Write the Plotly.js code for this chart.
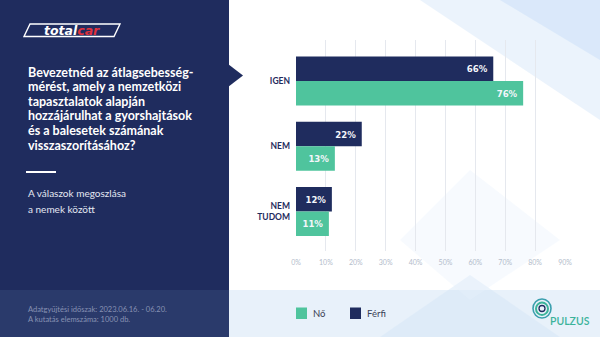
<!DOCTYPE html>
<html>
<head>
<meta charset="utf-8">
<script src="https://cdn.plot.ly/plotly-3.0.1.min.js"></script>
<style>html,body{margin:0;padding:0;background:#fff;}#chart{width:600px;height:337px;}</style>
</head>
<body>
<div id="chart"></div>
<script>
// ---- data ----
const categories = ["IGEN", "NEM", "NEM<br>TUDOM"];
const ferfiValues = [66, 22, 12];
const noValues = [76, 13, 11];
const seriesNames = ["Nő", "Férfi"];
const xTickVals = [0, 10, 20, 30, 40, 50, 60, 70, 80, 90];
const xTickText = ["0%", "10%", "20%", "30%", "40%", "50%", "60%", "70%", "80%", "90%"];
const titleLines = ["Bevezetnéd az átlagsebesség-", "mérést, amely a nemzetközi", "tapasztalatok alapján", "hozzájárulhat a gyorshajtások", "és a balesetek számának", "visszaszorításához?"];
const subtitleLines = ["A válaszok megoszlása", "a nemek között"];
const footerLines = ["Adatgyűjtési időszak: 2023.06.16. - 06.20.", "A kutatás elemszáma: 1000 db."];

// ---- styling ----
const NAVY = "#1f2c5e";
const GREEN = "#4fc49d";
const W = 600, H = 337;
const px = x => x / W;
const py = y => 1 - y / H;

const pct = v => v + "%\u00a0";
const labelFont = {family: "DejaVu Sans Condensed, Liberation Sans Narrow, sans-serif", size: 9.5, color: "#f4f6fb", weight: "bold"};

const traces = [
  {
    type: "bar", orientation: "h", name: seriesNames[1],
    y: categories, x: ferfiValues, text: ferfiValues.map(pct),
    marker: {color: NAVY}, textposition: "inside", insidetextanchor: "end",
    textfont: labelFont, hoverinfo: "skip", cliponaxis: false, showlegend: false
  },
  {
    type: "bar", orientation: "h", name: seriesNames[0],
    y: categories, x: noValues, text: noValues.map(pct),
    marker: {color: GREEN}, textposition: "inside", insidetextanchor: "end",
    textfont: labelFont, hoverinfo: "skip", cliponaxis: false, showlegend: false
  }
];

const shapes = [];
const annotations = [];

// right side background tints
shapes.push({type: "path", xref: "paper", yref: "paper", layer: "below",
  path: `M ${px(420)} ${py(0)} L ${px(600)} ${py(0)} L ${px(600)} ${py(120)} Z`,
  fillcolor: "rgba(190,215,245,0.3)", line: {width: 0}});
shapes.push({type: "path", xref: "paper", yref: "paper", layer: "below",
  path: `M ${px(500)} ${py(0)} L ${px(600)} ${py(0)} L ${px(600)} ${py(60)} Z`,
  fillcolor: "rgba(180,210,245,0.3)", line: {width: 0}});
shapes.push({type: "rect", xref: "paper", yref: "paper", layer: "below",
  x0: px(229), x1: px(600), y0: py(290), y1: py(337),
  fillcolor: "#e8f1fa", line: {width: 0}});
shapes.push({type: "path", xref: "paper", yref: "paper", layer: "below",
  path: `M ${px(380)} ${py(337)} L ${px(470)} ${py(275)} L ${px(560)} ${py(337)} Z`,
  fillcolor: "rgba(210,228,246,0.45)", line: {width: 0}});
shapes.push({type: "path", xref: "paper", yref: "paper", layer: "below",
  path: `M ${px(470)} ${py(170)} L ${px(560)} ${py(240)} L ${px(470)} ${py(300)} L ${px(400)} ${py(240)} Z`,
  fillcolor: "rgba(232,241,251,0.35)", line: {width: 0}});

// left panel
shapes.push({type: "rect", xref: "paper", yref: "paper", layer: "above",
  x0: 0, x1: px(229), y0: py(290), y1: 1, fillcolor: NAVY, line: {width: 0}});
shapes.push({type: "rect", xref: "paper", yref: "paper", layer: "above",
  x0: 0, x1: px(229), y0: 0, y1: py(290), fillcolor: "#2a3a6b", line: {width: 0}});
shapes.push({type: "path", xref: "paper", yref: "paper", layer: "above",
  path: `M ${px(228)} ${py(64)} L ${px(243)} ${py(75.5)} L ${px(228)} ${py(87)} Z`,
  fillcolor: NAVY, line: {width: 0}});
// separator line
shapes.push({type: "line", xref: "paper", yref: "paper", layer: "above",
  x0: px(26), x1: px(56), y0: py(172), y1: py(172), line: {color: "#ffffff", width: 2}});
// logo parallelogram
shapes.push({type: "path", xref: "paper", yref: "paper", layer: "above",
  path: `M ${px(30)} ${py(24)} L ${px(120)} ${py(24)} L ${px(114)} ${py(36.5)} L ${px(24)} ${py(36.5)} Z`,
  fillcolor: "rgba(0,0,0,0)", line: {color: "#ffffff", width: 1.4}});
annotations.push({xref: "paper", yref: "paper", x: px(72), y: py(30.3), xanchor: "center", yanchor: "middle",
  text: "<b><i>total<span style='color:#e0323c'>car</span></i></b>", showarrow: false,
  font: {family: "DejaVu Sans", size: 12.5, color: "#ffffff"}});

// title
titleLines.forEach((t, i) => {
  annotations.push({xref: "paper", yref: "paper", x: px(26), y: py(72 + i * 14.6), xanchor: "left", yanchor: "middle",
    text: "<b>" + t + "</b>", showarrow: false, font: {family: "Lato", size: 12.5, color: "#ffffff"}});
});
subtitleLines.forEach((t, i) => {
  annotations.push({xref: "paper", yref: "paper", x: px(26), y: py(193 + i * 15.5), xanchor: "left", yanchor: "middle",
    text: t, showarrow: false, font: {family: "Lato", size: 10, color: "#e4e8f2"}});
});
footerLines.forEach((t, i) => {
  annotations.push({xref: "paper", yref: "paper", x: px(26), y: py(309 + i * 10), xanchor: "left", yanchor: "middle",
    text: t, showarrow: false, font: {family: "Lato", size: 7.5, color: "#8892b3"}});
});

// legend (manual, to match spacing)
const legendItems = [
  {name: seriesNames[0], color: GREEN, x: 296},
  {name: seriesNames[1], color: NAVY, x: 350}
];
legendItems.forEach(it => {
  shapes.push({type: "rect", xref: "paper", yref: "paper", layer: "above",
    x0: px(it.x), x1: px(it.x + 11), y0: py(319), y1: py(307.5), fillcolor: it.color, line: {width: 0}});
  annotations.push({xref: "paper", yref: "paper", x: px(it.x + 15), y: py(313.5), xanchor: "left", yanchor: "middle",
    text: it.name, showarrow: false, font: {family: "Lato", size: 9.5, color: "#3a3f55"}});
});

// PULZUS logo
shapes.push({type: "circle", xref: "paper", yref: "paper", layer: "above",
  x0: px(533), x1: px(551), y0: py(318), y1: py(299), line: {color: "#3a9fae", width: 1.6}, fillcolor: "rgba(0,0,0,0)"});
shapes.push({type: "circle", xref: "paper", yref: "paper", layer: "above",
  x0: px(536), x1: px(548), y0: py(315), y1: py(302.5), line: {color: "#3bb39a", width: 2}, fillcolor: "rgba(0,0,0,0)"});
shapes.push({type: "circle", xref: "paper", yref: "paper", layer: "above",
  x0: px(539), x1: px(545), y0: py(311.5), y1: py(305.5), line: {color: NAVY, width: 1.3}, fillcolor: "rgba(0,0,0,0)"});
annotations.push({xref: "paper", yref: "paper", x: px(548), y: py(321), xanchor: "left", yanchor: "middle",
  text: "PULZUS", showarrow: false, font: {family: "Lato", size: 10.5, color: "#3bb39a", weight: 600}});

const layout = {
  width: W, height: H,
  margin: {l: 0, r: 0, t: 0, b: 0},
  paper_bgcolor: "#ffffff",
  plot_bgcolor: "rgba(0,0,0,0)",
  barmode: "group",
  bargap: 0.25,
  bargroupgap: 0,
  showlegend: false,
  xaxis: {
    domain: [px(296), px(565)], range: [0, 90], tickvals: xTickVals, ticktext: xTickText,
    showgrid: true, gridcolor: "#e5e8ee", gridwidth: 1, zeroline: false, showline: false,
    ticks: "", tickfont: {family: "Lato", size: 7, color: "#b3bccb"}, automargin: false, fixedrange: true,
    ticklabelstandoff: 6
  },
  yaxis: {
    domain: [py(251), py(40)], type: "category", range: [2.605, -0.628],
    showgrid: false, zeroline: false, showline: false, ticks: "",
    tickfont: {family: "Lato", size: 8.5, color: NAVY, weight: "bold"}, automargin: false, fixedrange: true,
    ticklabelstandoff: 5
  },
  shapes: shapes,
  annotations: annotations,
  font: {family: "Lato"}
};

Plotly.newPlot("chart", traces, layout, {displayModeBar: false, staticPlot: true});
</script>
</body>
</html>
